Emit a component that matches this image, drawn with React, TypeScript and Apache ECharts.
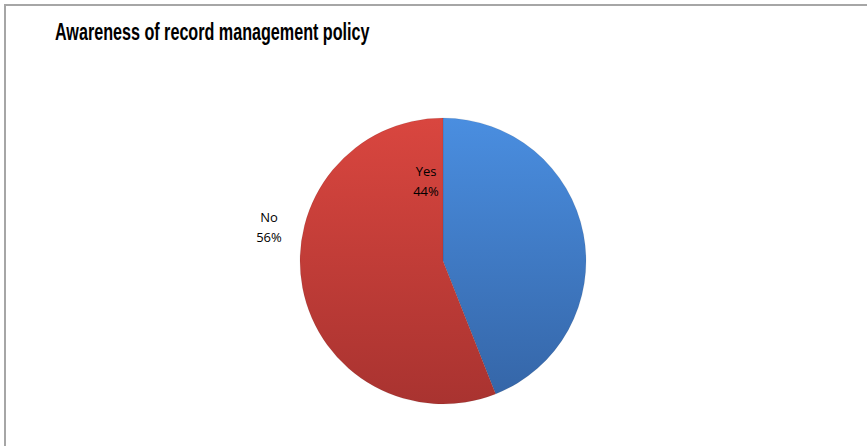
import React, { useEffect, useRef } from "react";
import * as echarts from "echarts";

const title = "Awareness of record management policy";
const categories = ["Yes", "No"];
const values = [44, 56];

const colorsTop = ["#4a8ee0", "#d9463f"];
const colorsBottom = ["#3566a8", "#a93330"];

const TITLE_FONT = "bold 24px 'Liberation Sans', Arial, sans-serif";
const TITLE_WIDTH = 315;

function titleScale(): number {
  try {
    const c = document.createElement("canvas");
    const ctx = c.getContext("2d");
    if (!ctx) return 0.75;
    ctx.font = TITLE_FONT;
    const w = ctx.measureText(title).width;
    return w > 0 ? TITLE_WIDTH / w : 0.75;
  } catch (e) {
    return 0.75;
  }
}

export default function App() {
  const ref = useRef<HTMLDivElement>(null);
  useEffect(() => {
    if (!ref.current) return;
    const chart = echarts.init(ref.current, undefined, { renderer: "svg" });
    const data = categories.map((name, i) => ({
      name,
      value: values[i],
      itemStyle: {
        color: new echarts.graphic.LinearGradient(0, 0, 0, 1, [
          { offset: 0, color: colorsTop[i] },
          { offset: 1, color: colorsBottom[i] },
        ]),
      },
    }));
    const labelPos = [
      { x: 426, y: 181 },
      { x: 269, y: 227 },
    ];
    const sx = titleScale();
    chart.setOption({
      animation: false,
      backgroundColor: "#ffffff",
      graphic: [
        {
          type: "rect",
          shape: { x: 5, y: 5, width: 880, height: 460 },
          style: { fill: "none", stroke: "#a6a6a6", lineWidth: 2 },
          silent: true,
        },
        {
          type: "text",
          x: 55,
          y: 31,
          scaleX: sx,
          style: {
            text: title,
            font: TITLE_FONT,
            fill: "#000000",
            verticalAlign: "middle",
          },
        },
      ],
      series: [
        {
          type: "pie",
          center: [443, 261],
          radius: 143,
          startAngle: 90,
          clockwise: true,
          data,
          itemStyle: {
            borderColor: "rgba(0,0,0,0.15)",
            borderWidth: 0.5,
          },
          label: {
            show: true,
            formatter: "{b}\n{d}%",
            fontSize: 13,
            lineHeight: 20,
            color: "#000000",
            fontFamily: "'Open Sans', 'Noto Sans', sans-serif",
          },
          labelLine: { show: false },
          labelLayout: (params: any) => ({
            x: labelPos[params.dataIndex].x,
            y: labelPos[params.dataIndex].y,
            align: "center",
            verticalAlign: "middle",
          }),
          emphasis: { disabled: true },
        },
      ],
    });
    return () => chart.dispose();
  }, []);
  return (
    <div
      ref={ref}
      style={{ position: "fixed", left: 0, top: 0, width: 867, height: 446 }}
    />
  );
}
